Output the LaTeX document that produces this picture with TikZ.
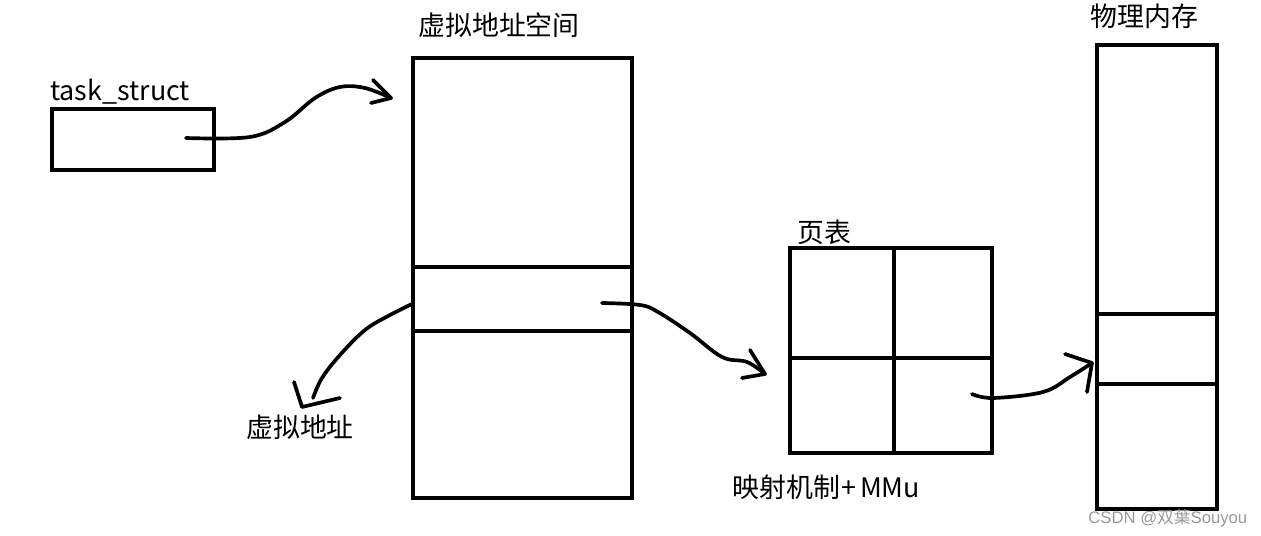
\documentclass[tikz,border=0pt]{standalone}
\usepackage{fontspec}
\setmainfont{Noto Sans CJK SC}
\newfontfamily\lsans{Liberation Sans}
\usetikzlibrary{fit}
\begin{document}
\begin{tikzpicture}[x=0.02cm,y=-0.02cm,
  box/.style={draw=black,line width=2.3pt,inner sep=0pt},
  stroke/.style={draw=black,line width=2.1pt,line cap=round,line join=round},
  lbl/.style={anchor=west,inner sep=0pt,font=\fontsize{15.3}{18}\selectfont},
  wm/.style={anchor=west,inner sep=0pt,text=gray!80,font=\fontsize{9.5}{11}\selectfont}]
\useasboundingbox[fill=white] (0,0) rectangle (1261,536);

% task_struct
\node[box,fit={(52,109) (214,170)}] (ts) {};
\node[lbl] (tslbl) at (50,92) {task\_struct};

% virtual address space
\node[box,fit={(413,58) (632,498)}] (vas) {};
\node[box,fit={(413,267) (632,331)}] (vpage) {};
\node[lbl] (vaslbl) at (418,25) {虚拟地址空间};

% page table
\node[box,fit={(790,248) (992,453)}] (pt) {};
\draw[box] (894,248) -- (894,453);
\draw[box] (790,358) -- (992,358);
\node[lbl] (ptlbl) at (797,232) {页表};
\node[lbl] (mmu) at (732,487) {映射机制\kern1pt+\kern2ptMMu};

% physical memory
\node[box,fit={(1097,45) (1217,509)}] (pm) {};
\node[box,fit={(1097,314) (1217,384)}] (ppage) {};
\node[lbl] (pmlbl) at (1090,16) {物理内存};

% virtual address label
\node[lbl] (valbl) at (246,427) {虚拟地址};

% watermark
\node[wm] (wmk) at (1088,518) {{\lsans CSDN @}双葉{\lsans Souyou}};

% connectors
\coordinate (a1s) at (186,138);
\coordinate (a1e) at (391,98);
\draw[stroke] plot[smooth,tension=0.6] coordinates {(a1s) (250,137) (285,122) (315,98) (340,87) (365,88) (a1e)};
\draw[stroke] (373,80) -- (a1e) -- (371,103);

\coordinate (a2s) at (412,304);
\coordinate (a2e) at (302,407);
\draw[stroke] plot[smooth,tension=0.6] coordinates {(a2s) (390,315) (365,330) (340,355) (322,378) (313,398)};
\draw[stroke] (294,382) -- (a2e) -- (340,398);

\coordinate (a3s) at (602,303);
\coordinate (a3e) at (765,374);
\draw[stroke] plot[smooth,tension=0.6] coordinates {(a3s) (640,305) (658,312) (690,333) (722,357) (747,362) (a3e)};
\draw[stroke] (750,350) -- (a3e) -- (742,378);

\coordinate (a4s) at (972,394);
\coordinate (a4e) at (1092,363);
\draw[stroke] plot[smooth,tension=0.6] coordinates {(a4s) (993,398) (1043,392) (1070,377) (a4e)};
\draw[stroke] (1065,354) -- (a4e) -- (1087,392);
\end{tikzpicture}
\end{document}
